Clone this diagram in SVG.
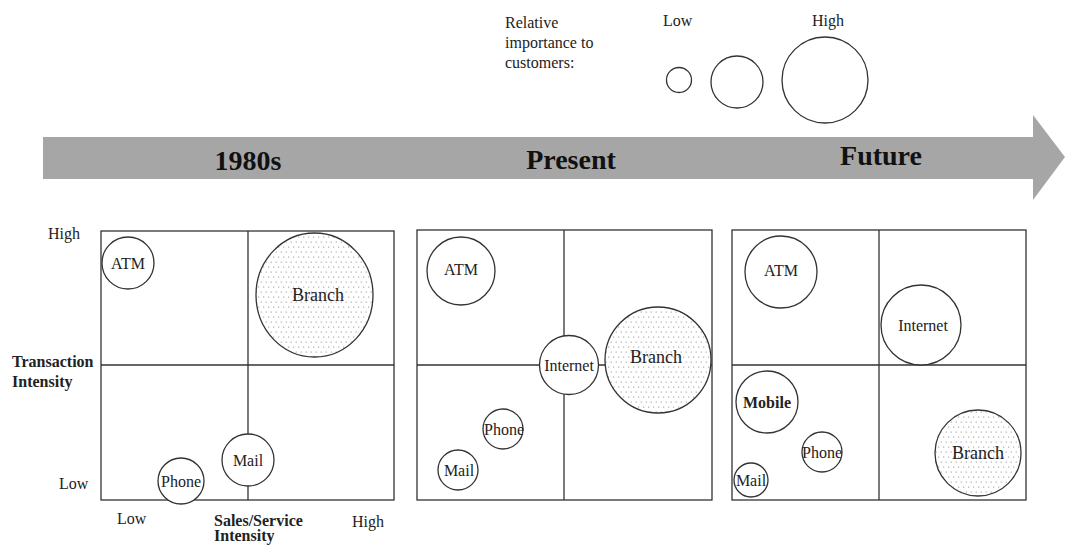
<svg xmlns="http://www.w3.org/2000/svg" width="1065" height="546" viewBox="0 0 1065 546">
  <defs>
    <pattern id="dots" width="5" height="10" patternUnits="userSpaceOnUse">
      <rect width="5" height="10" fill="#ffffff"/>
      <circle cx="1.2" cy="2" r="0.6" fill="#7a7a7a"/>
      <circle cx="3.7" cy="7" r="0.6" fill="#7a7a7a"/>
    </pattern>
    <style>
      text { font-family: "Liberation Serif", "Times New Roman", serif; font-size: 16px; fill: #222; }
      .mid { text-anchor: middle; }
      .b { font-weight: bold; }
      .big { font-size: 18px; }
      .era { font-size: 28px; font-weight: bold; text-anchor: middle; fill: #111; }
      .frame { fill: none; stroke: #333; stroke-width: 1.3; }
      .axis { stroke: #333; stroke-width: 1.3; }
      .node { fill: #fff; stroke: #333; stroke-width: 1.3; }
      .node.branch { fill: url(#dots); }
      .legend { fill: none; stroke: #333; stroke-width: 1.3; }
    </style>
  </defs>

  <!-- legend: relative importance -->
  <g id="legend">
    <text x="505" y="28">Relative</text>
    <text x="505" y="48">importance<tspan x="581">to</tspan></text>
    <text x="505" y="68">customers:</text>
    <text x="663" y="26">Low</text>
    <text x="812" y="26">High</text>
    <circle class="legend" cx="679" cy="80" r="12.5"/>
    <circle class="legend" cx="737" cy="82" r="26"/>
    <circle class="legend" cx="825" cy="80" r="43"/>
  </g>

  <!-- timeline arrow -->
  <g id="timeline">
    <polygon points="43,137 1033,137 1033,115 1065,157 1033,200 1033,179 43,179" fill="#a6a6a6"/>
    <text class="era" x="248" y="170">1980s</text>
    <text class="era" x="571" y="169">Present</text>
    <text class="era" x="881" y="165">Future</text>
  </g>

  <!-- axis labels -->
  <g id="axes">
    <text x="48" y="239">High</text>
    <text x="59" y="489">Low</text>
    <text class="b" x="12" y="367">Transaction</text>
    <text class="b" x="12" y="387">Intensity</text>
    <text x="117" y="524">Low</text>
    <text class="b" x="214" y="526">Sales/Service</text>
    <text class="b" x="214" y="541">Intensity</text>
    <text x="352" y="527">High</text>
  </g>

  <!-- quadrant grids -->
  <g id="connectors">
    <rect class="frame" x="101" y="231" width="293" height="269"/>
    <line class="axis" x1="248" y1="231" x2="248" y2="500"/>
    <line class="axis" x1="101" y1="365" x2="394" y2="365"/>

    <rect class="frame" x="417" y="230" width="295" height="270"/>
    <line class="axis" x1="564" y1="230" x2="564" y2="500"/>
    <line class="axis" x1="417" y1="365" x2="712" y2="365"/>

    <rect class="frame" x="732" y="230" width="294" height="270"/>
    <line class="axis" x1="879" y1="230" x2="879" y2="500"/>
    <line class="axis" x1="732" y1="365" x2="1026" y2="365"/>
  </g>

  <!-- 1980s -->
  <g id="p1-atm"><circle class="node" cx="128" cy="263" r="26"/><text class="mid" x="128" y="269">ATM</text></g>
  <g id="p1-branch"><ellipse class="node branch" cx="314.5" cy="295" rx="58.5" ry="62"/><text class="mid big" x="318" y="301">Branch</text></g>
  <g id="p1-mail"><circle class="node" cx="248" cy="460" r="26"/><text class="mid" x="248" y="466">Mail</text></g>
  <g id="p1-phone"><circle class="node" cx="181" cy="481" r="23"/><text class="mid" x="181" y="487">Phone</text></g>

  <!-- Present -->
  <g id="p2-atm"><circle class="node" cx="461" cy="271" r="34"/><text class="mid" x="461" y="275">ATM</text></g>
  <g id="p2-internet"><circle class="node" cx="569" cy="365" r="29.5"/><text class="mid" x="569" y="371">Internet</text></g>
  <g id="p2-branch"><circle class="node branch" cx="658" cy="360" r="53"/><text class="mid big" x="656" y="363">Branch</text></g>
  <g id="p2-phone"><circle class="node" cx="503" cy="429" r="20"/><text class="mid" x="504" y="435">Phone</text></g>
  <g id="p2-mail"><circle class="node" cx="458" cy="470" r="20"/><text class="mid" x="459" y="476">Mail</text></g>

  <!-- Future -->
  <g id="p3-atm"><circle class="node" cx="781" cy="272" r="36"/><text class="mid" x="781" y="276">ATM</text></g>
  <g id="p3-internet"><circle class="node" cx="921" cy="325" r="40"/><text class="mid" x="923" y="331">Internet</text></g>
  <g id="p3-mobile"><circle class="node" cx="767" cy="402" r="31"/><text class="mid b" x="767" y="408">Mobile</text></g>
  <g id="p3-phone"><circle class="node" cx="822" cy="452" r="20"/><text class="mid" x="822" y="458">Phone</text></g>
  <g id="p3-mail"><circle class="node" cx="751" cy="480" r="17"/><text class="mid" x="751" y="486">Mail</text></g>
  <g id="p3-branch"><circle class="node branch" cx="978" cy="453" r="43"/><text class="mid big" x="978" y="459">Branch</text></g>
</svg>
